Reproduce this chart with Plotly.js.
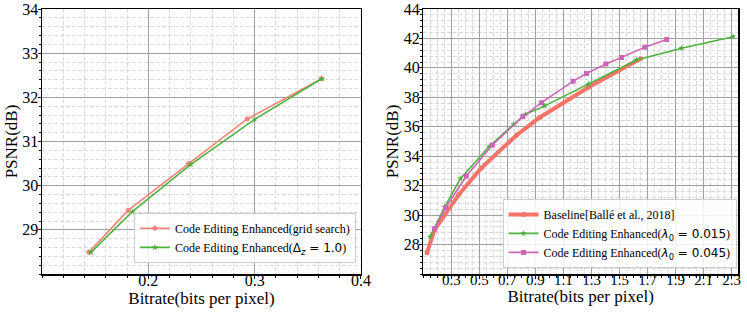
<!DOCTYPE html>
<html>
<head>
<meta charset="utf-8">
<script src="https://cdn.plot.ly/plotly-3.0.1.min.js"></script>
<style>
  html, body { margin: 0; padding: 0; background: #fff; }
  #chart { width: 747px; height: 312px; }
</style>
</head>
<body>
<div id="chart"></div>
<script>
// left panel: grid search vs fixed delta_z
var gridRate = [0.144, 0.181, 0.238, 0.293, 0.363];
var gridPsnr = [28.49, 29.44, 30.50, 31.51, 32.42];
var dzRate = [0.146, 0.185, 0.240, 0.300, 0.363];
var dzPsnr = [28.49, 29.41, 30.48, 31.50, 32.42];

// right panel
var baseRate = [0.126, 0.18, 0.354, 0.514, 0.764, 0.93, 1.276, 1.65];
var basePsnr = [27.44, 29.0, 31.41, 33.2, 35.42, 36.63, 38.67, 40.62];
var l015Rate = [0.148, 0.252, 0.364, 0.57, 0.745, 0.83, 0.966, 1.28, 1.62, 1.943, 2.31];
var l015Psnr = [28.53, 30.54, 32.48, 34.66, 36.17, 36.85, 37.42, 38.9, 40.54, 41.34, 42.12];
var l045Rate = [0.181, 0.259, 0.407, 0.593, 0.81, 0.943, 1.169, 1.264, 1.402, 1.514, 1.68, 1.836];
var l045Psnr = [29.07, 30.5, 32.65, 34.76, 36.69, 37.64, 39.1, 39.62, 40.27, 40.7, 41.41, 41.93];

var leftXTicks = [0.2, 0.3, 0.4];
var leftYTicks = [29, 30, 31, 32, 33, 34];
var rightXTicks = [0.3, 0.5, 0.7, 0.9, 1.1, 1.3, 1.5, 1.7, 1.9, 2.1, 2.3];
var rightYTicks = [28, 30, 32, 34, 36, 38, 40, 42, 44];

var serif = 'Liberation Serif';
var mathOpen = '<span style="font-family:DejaVu Sans">';

var traces = [
  {x: gridRate, y: gridPsnr, xaxis: 'x', yaxis: 'y', mode: 'lines+markers',
   name: 'Code Editing Enhanced(grid search)',
   line: {color: '#F4837B', width: 1.6}, marker: {symbol: 'circle', size: 5, color: '#F4837B'}},
  {x: dzRate, y: dzPsnr, xaxis: 'x', yaxis: 'y', mode: 'lines+markers',
   name: 'Code Editing Enhanced(' + mathOpen + 'Δ<sub><i>z</i></sub> = 1.0</span>)',
   line: {color: '#4DB33D', width: 1.6}, marker: {symbol: 'star', size: 5, color: '#4DB33D'}},

  {x: baseRate, y: basePsnr, xaxis: 'x2', yaxis: 'y2', mode: 'lines+markers', legend: 'legend2',
   name: 'Baseline[Ballé et al., 2018]',
   line: {color: '#F47468', width: 4}, marker: {symbol: 'circle', size: 5, color: '#F47468'}},
  {x: l015Rate, y: l015Psnr, xaxis: 'x2', yaxis: 'y2', mode: 'lines+markers', legend: 'legend2',
   name: 'Code Editing Enhanced(' + mathOpen + '<i>λ</i><sub>0</sub> = 0.015</span>)',
   line: {color: '#4DB33D', width: 1.6}, marker: {symbol: 'star', size: 5, color: '#4DB33D'}},
  {x: l045Rate, y: l045Psnr, xaxis: 'x2', yaxis: 'y2', mode: 'lines+markers', legend: 'legend2',
   name: 'Code Editing Enhanced(' + mathOpen + '<i>λ</i><sub>0</sub> = 0.045</span>)',
   line: {color: '#C966B6', width: 1.6}, marker: {symbol: 'square', size: 5, color: '#C966B6'}}
];

function ax(opts) {
  var base = {
    automargin: false,
    showline: true, mirror: true, linecolor: '#000', linewidth: 1.5,
    showgrid: true, gridcolor: '#a0a0a0', gridwidth: 1,
    zeroline: false,
    ticks: 'outside', ticklen: 3, tickcolor: '#000',
    tickfont: {family: serif, size: 16, color: '#000'},
    minor: {showgrid: true, gridcolor: '#dadada', griddash: '4px,2px', gridwidth: 1,
            ticks: 'outside', ticklen: 2, tickcolor: '#000'}
  };
  for (var k in opts) {
    if (k === 'minor') { for (var m in opts.minor) base.minor[m] = opts.minor[m]; }
    else base[k] = opts[k];
  }
  return base;
}

var layout = {
  width: 747, height: 312,
  margin: {l: 42, r: 9, t: 9, b: 38},
  paper_bgcolor: '#fff', plot_bgcolor: '#fff',
  font: {family: serif, color: '#000'},
  xaxis: ax({domain: [0, 0.4583], range: [0.1, 0.4], tickvals: leftXTicks, ticktext: ['0.2', '0.3', '0.4'],
             ticklabelstandoff: -12,
             minor: {dtick: 0.02, tick0: 0},
             title: {text: 'Bitrate(bits per pixel)', font: {family: serif, size: 17}, standoff: 0}}),
  yaxis: ax({domain: [0, 1], range: [28, 34], tickvals: leftYTicks,
             ticklabelstandoff: -4,
             minor: {dtick: 0.2, tick0: 0},
             title: {text: 'PSNR(dB)', font: {family: serif, size: 17}, standoff: 0}}),
  xaxis2: ax({domain: [0.5479, 1], range: [0.1, 2.345], anchor: 'y2', tickvals: rightXTicks,
              ticktext: rightXTicks.map(function (v) { return v.toFixed(1); }),
              ticklabelstandoff: -12,
              tickfont: {family: serif, size: 15, color: '#000'},
              minor: {dtick: 0.05, tick0: 0},
              title: {text: 'Bitrate(bits per pixel)', font: {family: serif, size: 17}, standoff: 0}}),
  yaxis2: ax({domain: [0, 1], range: [26, 44], anchor: 'x2', tickvals: rightYTicks,
              ticklabelstandoff: -4,
              minor: {dtick: 0.4, tick0: 0},
              title: {text: 'PSNR(dB)', font: {family: serif, size: 17}, standoff: 0}}),
  showlegend: true,
  legend: {x: 0.451, y: 0.042, xanchor: 'right', yanchor: 'bottom',
           bgcolor: 'rgba(255,255,255,0.85)', bordercolor: '#cccccc', borderwidth: 1,
           font: {family: serif, size: 12, color: '#000'}, tracegroupgap: 0},
  legend2: {x: 0.998, y: 0.023, xanchor: 'right', yanchor: 'bottom',
            bgcolor: 'rgba(255,255,255,0.85)', bordercolor: '#cccccc', borderwidth: 1,
            font: {family: serif, size: 12, color: '#000'}, tracegroupgap: 0}
};

Plotly.newPlot('chart', traces, layout, {staticPlot: true, displayModeBar: false});
</script>
</body>
</html>
